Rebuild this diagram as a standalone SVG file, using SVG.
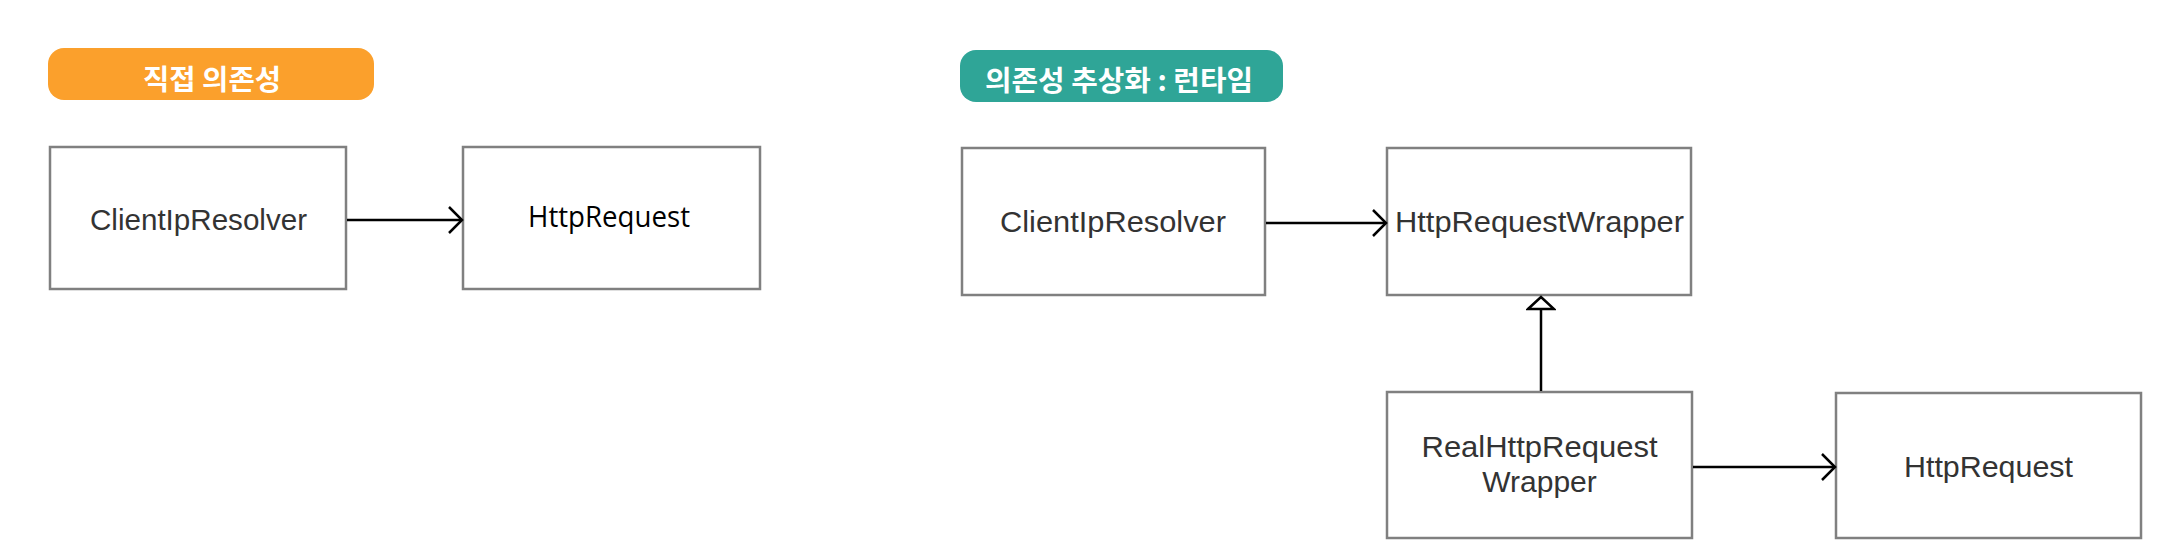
<svg xmlns="http://www.w3.org/2000/svg" width="2170" height="560" viewBox="0 0 2170 560">
  <style>
    .box { fill: #ffffff; stroke: #808080; stroke-width: 2.5; }
    .lbl { font-family: "Liberation Sans", Arial, sans-serif; font-size: 30px; fill: #333333; text-anchor: middle; }
    .lbl2 { font-family: "Open Sans", "Noto Sans", sans-serif; font-size: 29px; fill: #000000; text-anchor: middle; }
    .pilltxt { font-family: "Noto Sans CJK KR", sans-serif; font-size: 28px; font-weight: bold; fill: #ffffff; text-anchor: middle; }
    .conn { fill: none; stroke: #000000; stroke-width: 2.5; }
  </style>
  <defs>
    <marker id="open" markerUnits="userSpaceOnUse" markerWidth="16" markerHeight="30" refX="13" refY="14" orient="auto" viewBox="-1 -1 16 30">
      <path d="M0,1 L13,14 L0,27" fill="none" stroke="#000000" stroke-width="2.5"/>
    </marker>
    <marker id="tri" markerUnits="userSpaceOnUse" markerWidth="16" markerHeight="30" refX="13" refY="14" orient="auto" viewBox="-1 -1 16 30">
      <path d="M1,1 L13,14 L1,27 Z" fill="#ffffff" stroke="#000000" stroke-width="2.5"/>
    </marker>
  </defs>
  <rect width="2170" height="560" fill="#ffffff"/>

  <g id="title-direct">
    <rect x="48" y="48" width="326" height="52" rx="16" fill="#FBA02C"/>
    <text class="pilltxt" x="212" y="90" textLength="138" lengthAdjust="spacingAndGlyphs">직접 의존성</text>
  </g>
  <g id="title-abstract">
    <rect x="960" y="50" width="323" height="52" rx="16" fill="#2FA597"/>
    <text class="pilltxt" x="1119" y="91" textLength="268" lengthAdjust="spacingAndGlyphs">의존성 추상화 : 런타임</text>
  </g>

  <g id="n1-client">
    <rect class="box" x="50" y="147" width="296" height="142"/>
    <text class="lbl" x="198.5" y="230" font-size="31" textLength="217" lengthAdjust="spacingAndGlyphs">ClientIpResolver</text>
  </g>
  <g id="n1-http">
    <rect class="box" x="463" y="147" width="297" height="142"/>
    <text class="lbl2" x="609" y="227" textLength="162" lengthAdjust="spacingAndGlyphs">HttpRequest</text>
  </g>

  <g id="n2-client">
    <rect class="box" x="962" y="148" width="303" height="147"/>
    <text class="lbl" x="1113" y="232" textLength="226" lengthAdjust="spacingAndGlyphs">ClientIpResolver</text>
  </g>
  <g id="n2-wrapper">
    <rect class="box" x="1387" y="148" width="304" height="147"/>
    <text class="lbl" x="1539.5" y="232" textLength="289" lengthAdjust="spacingAndGlyphs">HttpRequestWrapper</text>
  </g>
  <g id="n2-real">
    <rect class="box" x="1387" y="392" width="305" height="146"/>
    <text class="lbl" x="1539.5" y="457" textLength="236" lengthAdjust="spacingAndGlyphs">RealHttpRequest</text>
    <text class="lbl" x="1539.5" y="492">Wrapper</text>
  </g>
  <g id="n2-http">
    <rect class="box" x="1836" y="393" width="305" height="145"/>
    <text class="lbl" x="1988.5" y="477" textLength="169" lengthAdjust="spacingAndGlyphs">HttpRequest</text>
  </g>

  <g id="connectors">
    <line class="conn" x1="347" y1="220" x2="462" y2="220" marker-end="url(#open)"/>
    <line class="conn" x1="1266" y1="223" x2="1386" y2="223" marker-end="url(#open)"/>
    <line class="conn" x1="1541" y1="391" x2="1541" y2="297" marker-end="url(#tri)"/>
    <line class="conn" x1="1693" y1="467" x2="1835" y2="467" marker-end="url(#open)"/>
  </g>
</svg>
